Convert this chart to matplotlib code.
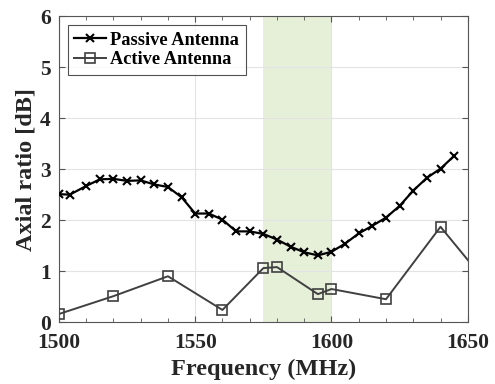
import matplotlib
matplotlib.use("Agg")
import matplotlib.pyplot as plt
from matplotlib.ticker import MultipleLocator

# Passive antenna axial ratio
passive_freq = [1500, 1504, 1510, 1515, 1520, 1525, 1530, 1535, 1540, 1545,
                1550, 1555, 1560, 1565, 1570, 1575, 1580, 1585, 1590, 1595,
                1600, 1605, 1610, 1615, 1620, 1625, 1630, 1635, 1640, 1645]
passive_ar = [2.51, 2.50, 2.67, 2.80, 2.81, 2.77, 2.78, 2.70, 2.65, 2.45,
              2.13, 2.13, 2.01, 1.78, 1.78, 1.73, 1.62, 1.48, 1.37, 1.31,
              1.38, 1.54, 1.74, 1.89, 2.05, 2.28, 2.58, 2.83, 3.01, 3.26]

# Active antenna axial ratio
active_freq = [1500, 1520, 1540, 1560, 1575, 1580, 1595, 1600, 1620, 1640, 1660]
active_ar = [0.16, 0.51, 0.90, 0.24, 1.06, 1.08, 0.55, 0.65, 0.45, 1.87, 0.57]

# GNSS L1 band
band = (1575, 1600)

xticks = [1500, 1550, 1600, 1650]
yticks = [0, 1, 2, 3, 4, 5, 6]

plt.rcParams['font.family'] = ['Liberation Serif', 'DejaVu Serif']
plt.rcParams['font.weight'] = 'bold'

fig = plt.figure(figsize=(4.95, 3.84), dpi=100)
ax = fig.add_axes([0.119, 0.161, 0.826, 0.797])

ax.axvspan(band[0], band[1], color='#e6f0d9', zorder=0, lw=0)

ax.plot(passive_freq, passive_ar, color='black', lw=1.6, marker='x',
        ms=6, mew=1.5, label='Passive Antenna', zorder=3)
ax.plot(active_freq, active_ar, color='#404040', lw=1.4, marker='s',
        ms=6.5, mfc='none', mew=1.2, label='Active Antenna', zorder=3)

ax.set_xlim(1500, 1650)
ax.set_ylim(0, 6)
ax.set_xticks(xticks)
ax.set_yticks(yticks)
ax.xaxis.set_minor_locator(MultipleLocator(10))
ax.grid(True, which='major', color='#e3e3e3', lw=0.8)
ax.set_axisbelow(True)
ax.tick_params(which='both', direction='in', top=True, right=True,
               colors='#555555', labelcolor='#262626', labelsize=15.5)
ax.tick_params(which='major', length=4)
ax.tick_params(axis='x', which='major', pad=8)
ax.tick_params(axis='y', which='major', pad=6)
ax.tick_params(which='minor', length=3)
for s in ax.spines.values():
    s.set_color('#555555')
    s.set_linewidth(0.8)

ax.set_xlabel('Frequency (MHz)', fontsize=17.5, fontweight='bold',
              color='#262626', labelpad=4)
ax.set_ylabel('Axial ratio [dB]', fontsize=17.5, fontweight='bold',
              color='#262626', labelpad=2)

leg = ax.legend(loc='upper left', fontsize=13.2, frameon=True, fancybox=False,
                edgecolor='#262626', handlelength=1.7, handletextpad=0.25,
                borderpad=0.35, labelspacing=0.15, borderaxespad=0.5)
leg.get_frame().set_linewidth(0.8)
for t in leg.get_texts():
    t.set_fontweight('bold')

fig.savefig('out.png', dpi=100)
